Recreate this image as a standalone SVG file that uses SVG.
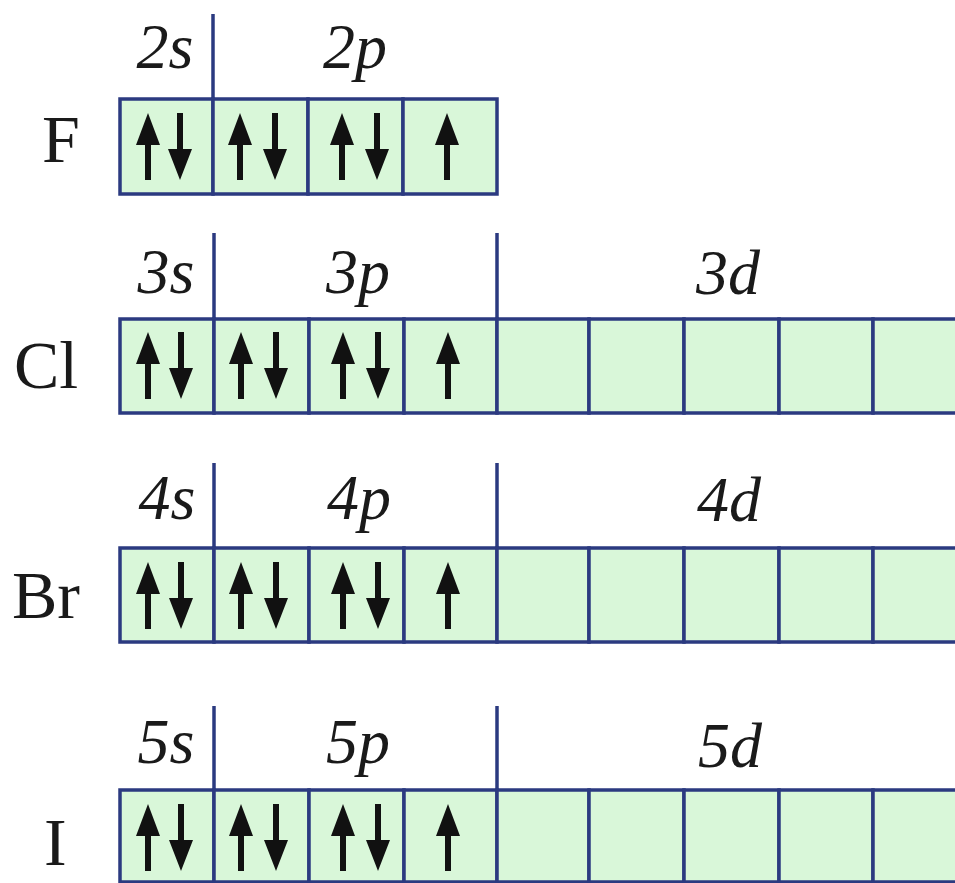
<svg xmlns="http://www.w3.org/2000/svg" xmlns:xlink="http://www.w3.org/1999/xlink" width="955" height="883" viewBox="0 0 955 883">
<style>
.cell{fill:#d9f7d9;stroke:#2b3a80;stroke-width:3.5}
.sep{stroke:#2b3a80;stroke-width:3.5;fill:none}
.el{font-family:'Liberation Serif',Tinos,'Times New Roman',Times,serif;font-size:68px;fill:#1a1a1a}
.orb{font-family:'Liberation Serif',Tinos,'Times New Roman',Times,serif;font-style:italic;font-size:64px;fill:#1a1a1a;text-anchor:middle}
.arr{fill:#111}
</style>
<defs>
<g id="up"><path class="arr" d="M0 0 L12 32 L3 32 L3 67 L-3 67 L-3 32 L-12 32 Z"/></g>
<g id="dn"><path class="arr" d="M0 67 L12 36 L3 36 L3 0 L-3 0 L-3 36 L-12 36 Z"/></g>
</defs>
<rect width="955" height="883" fill="#ffffff"/>

<g id="separators">
<line class="sep" x1="213" y1="14" x2="213" y2="99"/>
<line class="sep" x1="214" y1="233" x2="214" y2="319"/>
<line class="sep" x1="497" y1="233" x2="497" y2="319"/>
<line class="sep" x1="214" y1="463" x2="214" y2="548"/>
<line class="sep" x1="497" y1="463" x2="497" y2="548"/>
<line class="sep" x1="214" y1="706" x2="214" y2="790"/>
<line class="sep" x1="497" y1="706" x2="497" y2="790"/>
</g>

<g id="row-F">
<text class="el" font-family="Liberation Serif" x="42" y="162">F</text>
<text class="orb" font-family="Liberation Serif" x="165" y="68">2s</text>
<text class="orb" font-family="Liberation Serif" x="355" y="68">2p</text>
<rect class="cell" x="120" y="99" width="93" height="95"/>
<rect class="cell" x="213" y="99" width="95" height="95"/>
<rect class="cell" x="308" y="99" width="95" height="95"/>
<rect class="cell" x="403" y="99" width="94" height="95"/>
<use href="#up" xlink:href="#up" x="148" y="113"/><use href="#dn" xlink:href="#dn" x="180" y="113"/>
<use href="#up" xlink:href="#up" x="240" y="113"/><use href="#dn" xlink:href="#dn" x="275" y="113"/>
<use href="#up" xlink:href="#up" x="342" y="113"/><use href="#dn" xlink:href="#dn" x="377" y="113"/>
<use href="#up" xlink:href="#up" x="447" y="113"/>
</g>

<g id="row-Cl">
<text class="el" x="14" y="388">Cl</text>
<text class="orb" x="166" y="293">3s</text>
<text class="orb" x="358" y="293">3p</text>
<text class="orb" x="728" y="294">3d</text>
<rect class="cell" x="120" y="319" width="94" height="94"/>
<rect class="cell" x="214" y="319" width="95" height="94"/>
<rect class="cell" x="309" y="319" width="95" height="94"/>
<rect class="cell" x="404" y="319" width="93" height="94"/>
<rect class="cell" x="497" y="319" width="92" height="94"/>
<rect class="cell" x="589" y="319" width="95" height="94"/>
<rect class="cell" x="684" y="319" width="95" height="94"/>
<rect class="cell" x="779" y="319" width="94" height="94"/>
<rect class="cell" x="873" y="319" width="94" height="94"/>
<use href="#up" xlink:href="#up" x="148" y="332"/><use href="#dn" xlink:href="#dn" x="181" y="332"/>
<use href="#up" xlink:href="#up" x="241" y="332"/><use href="#dn" xlink:href="#dn" x="276" y="332"/>
<use href="#up" xlink:href="#up" x="343" y="332"/><use href="#dn" xlink:href="#dn" x="378" y="332"/>
<use href="#up" xlink:href="#up" x="448" y="332"/>
</g>

<g id="row-Br">
<text class="el" x="12" y="618">Br</text>
<text class="orb" x="167" y="519">4s</text>
<text class="orb" x="359" y="519">4p</text>
<text class="orb" x="729" y="521">4d</text>
<rect class="cell" x="120" y="548" width="94" height="94"/>
<rect class="cell" x="214" y="548" width="95" height="94"/>
<rect class="cell" x="309" y="548" width="95" height="94"/>
<rect class="cell" x="404" y="548" width="93" height="94"/>
<rect class="cell" x="497" y="548" width="92" height="94"/>
<rect class="cell" x="589" y="548" width="95" height="94"/>
<rect class="cell" x="684" y="548" width="95" height="94"/>
<rect class="cell" x="779" y="548" width="94" height="94"/>
<rect class="cell" x="873" y="548" width="94" height="94"/>
<use href="#up" xlink:href="#up" x="148" y="562"/><use href="#dn" xlink:href="#dn" x="181" y="562"/>
<use href="#up" xlink:href="#up" x="241" y="562"/><use href="#dn" xlink:href="#dn" x="276" y="562"/>
<use href="#up" xlink:href="#up" x="343" y="562"/><use href="#dn" xlink:href="#dn" x="378" y="562"/>
<use href="#up" xlink:href="#up" x="448" y="562"/>
</g>

<g id="row-I">
<text class="el" x="44" y="865">I</text>
<text class="orb" x="166" y="763">5s</text>
<text class="orb" x="358" y="763">5p</text>
<text class="orb" x="730" y="767">5d</text>
<rect class="cell" x="120" y="790" width="94" height="92"/>
<rect class="cell" x="214" y="790" width="95" height="92"/>
<rect class="cell" x="309" y="790" width="95" height="92"/>
<rect class="cell" x="404" y="790" width="93" height="92"/>
<rect class="cell" x="497" y="790" width="92" height="92"/>
<rect class="cell" x="589" y="790" width="95" height="92"/>
<rect class="cell" x="684" y="790" width="95" height="92"/>
<rect class="cell" x="779" y="790" width="94" height="92"/>
<rect class="cell" x="873" y="790" width="94" height="92"/>
<use href="#up" xlink:href="#up" x="148" y="804"/><use href="#dn" xlink:href="#dn" x="181" y="804"/>
<use href="#up" xlink:href="#up" x="241" y="804"/><use href="#dn" xlink:href="#dn" x="276" y="804"/>
<use href="#up" xlink:href="#up" x="343" y="804"/><use href="#dn" xlink:href="#dn" x="378" y="804"/>
<use href="#up" xlink:href="#up" x="448" y="804"/>
</g>
</svg>
